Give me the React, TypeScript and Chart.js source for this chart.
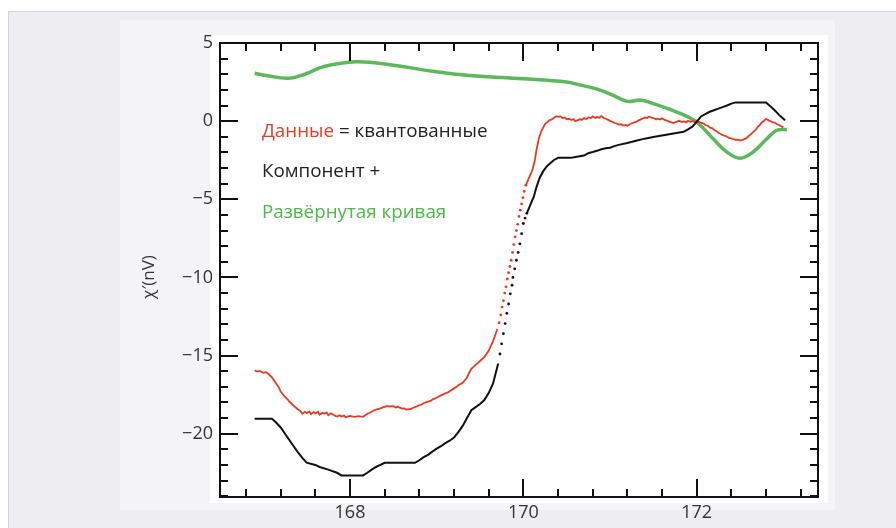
import React, { useEffect, useRef } from "react";
import { Chart, registerables } from "chart.js";

Chart.register(...registerables);

// ---- axis setup ----
const xMin = 166.5;
const xMax = 173.4;
const yMin = -24.05;
const yMax = 5;
const xMajorTicks = [168, 170, 172];
const xMinorTicks = [166.8, 167.2, 167.6, 168.4, 168.8, 169.2, 169.6, 170.4, 170.8, 171.2, 171.6, 172.4, 172.8, 173.2];
const yMajorTicks = [5, 0, -5, -10, -15, -20];
const yMinorTicks = [4, 3, 2, 1, -1, -2, -3, -4, -6, -7, -8, -9, -11, -12, -13, -14, -16, -17, -18, -19, -21, -22, -23, -24];
const yTitle = "χ′(nV)";

// ---- legend text ----
const legendData = "Данные";
const legendEq = " = квантованные";
const legendComp = "Компонент +";
const legendCurve = "Развёрнутая кривая";

// ---- series (x, y) ----
const greenCurve: [number, number][] = [
  [166.9, 3.07], [167.05, 2.9], [167.3, 2.75], [167.5, 3.05], [167.7, 3.5], [168.07, 3.8],
  [168.44, 3.63], [168.97, 3.18], [169.38, 2.92], [170.0, 2.71], [170.5, 2.5], [170.65, 2.32],
  [170.85, 2.05], [171.03, 1.66], [171.12, 1.43], [171.22, 1.25], [171.35, 1.35], [171.5, 1.12],
  [171.77, 0.58], [172.0, -0.06], [172.19, -1.13], [172.35, -1.98], [172.5, -2.37], [172.65, -1.98],
  [172.81, -1.13], [172.92, -0.6], [173.04, -0.53],
];

const redLow: [number, number][] = [
  [166.9, -15.95], [166.93, -16.02], [166.96, -15.98], [167.0, -16.1], [167.03, -16.06], [167.06, -16.18],
  [167.1, -16.4], [167.15, -16.8], [167.18, -17.05], [167.2, -17.3], [167.25, -17.65], [167.28, -17.8],
  [167.3, -17.95], [167.33, -18.1], [167.35, -18.2], [167.4, -18.45], [167.43, -18.55], [167.45, -18.72],
  [167.48, -18.6], [167.5, -18.68], [167.53, -18.58], [167.55, -18.75], [167.58, -18.62], [167.6, -18.7],
  [167.63, -18.6], [167.65, -18.78], [167.68, -18.66], [167.7, -18.72], [167.73, -18.64], [167.75, -18.82],
  [167.78, -18.7], [167.8, -18.75], [167.83, -18.86], [167.85, -18.9], [167.88, -18.82], [167.9, -18.9],
  [167.93, -18.84], [167.95, -18.94], [168.0, -18.86], [168.05, -18.92], [168.1, -18.88], [168.15, -18.92],
  [168.18, -18.8], [168.2, -18.72], [168.23, -18.66], [168.25, -18.6], [168.28, -18.5], [168.3, -18.46],
  [168.35, -18.38], [168.38, -18.32], [168.4, -18.28], [168.43, -18.22], [168.45, -18.26], [168.5, -18.24],
  [168.53, -18.32], [168.55, -18.28], [168.6, -18.4], [168.63, -18.38], [168.65, -18.46], [168.7, -18.42],
  [168.73, -18.34], [168.75, -18.3], [168.8, -18.18], [168.83, -18.12], [168.85, -18.05], [168.9, -17.95],
  [168.93, -17.9], [168.95, -17.82], [169.0, -17.7], [169.03, -17.6], [169.05, -17.55], [169.1, -17.42],
  [169.13, -17.36], [169.15, -17.28], [169.2, -17.1], [169.23, -17.0], [169.25, -16.9], [169.3, -16.75],
  [169.33, -16.55], [169.35, -16.4], [169.38, -16.05], [169.4, -15.85], [169.45, -15.6], [169.5, -15.35],
  [169.55, -15.1], [169.6, -14.7], [169.65, -14.1], [169.7, -13.3],
];
const redSteep: [number, number][] = [
  [169.72, -12.9], [169.74, -12.4], [169.755, -11.9], [169.77, -11.5], [169.785, -11.0], [169.8, -10.6],
  [169.815, -10.1], [169.83, -9.7], [169.845, -9.3], [169.86, -8.9], [169.875, -8.4], [169.89, -7.9],
  [169.905, -7.4], [169.92, -7.0], [169.935, -6.6], [169.95, -6.1], [169.965, -5.7], [169.98, -5.3],
  [169.995, -4.9], [170.01, -4.5], [170.03, -4.1],
];
const redHigh: [number, number][] = [
  [170.03, -4.1], [170.06, -3.7], [170.1, -3.2], [170.13, -2.6], [170.15, -1.9], [170.18, -1.1],
  [170.21, -0.6], [170.25, -0.2], [170.3, 0.05], [170.33, 0.12], [170.35, 0.2], [170.38, 0.32],
  [170.4, 0.28], [170.43, 0.3], [170.45, 0.2], [170.48, 0.22], [170.5, 0.12], [170.53, 0.15],
  [170.55, 0.08], [170.58, 0.12], [170.6, 0.0], [170.63, 0.06], [170.65, 0.12], [170.68, 0.1],
  [170.7, 0.18], [170.73, 0.14], [170.75, 0.24], [170.78, 0.2], [170.8, 0.3], [170.83, 0.2],
  [170.85, 0.26], [170.88, 0.22], [170.9, 0.32], [170.93, 0.2], [170.95, 0.15], [170.98, 0.08],
  [171.0, 0.02], [171.03, -0.05], [171.05, -0.12], [171.08, -0.15], [171.1, -0.22], [171.13, -0.2],
  [171.15, -0.28], [171.18, -0.24], [171.2, -0.3], [171.23, -0.2], [171.25, -0.15], [171.28, -0.08],
  [171.3, -0.05], [171.33, 0.05], [171.35, 0.1], [171.38, 0.18], [171.4, 0.22], [171.43, 0.2],
  [171.45, 0.3], [171.48, 0.22], [171.5, 0.2], [171.53, 0.12], [171.55, 0.16], [171.58, 0.1],
  [171.6, 0.18], [171.63, 0.08], [171.65, 0.05], [171.68, -0.02], [171.7, -0.06], [171.73, -0.12],
  [171.75, -0.08], [171.78, -0.02], [171.8, 0.02], [171.83, -0.06], [171.85, -0.02], [171.88, -0.08],
  [171.9, 0.02], [171.93, -0.04], [171.95, 0.0], [171.98, -0.05], [172.0, 0.04], [172.03, -0.06],
  [172.05, -0.1], [172.08, -0.16], [172.1, -0.25], [172.13, -0.3], [172.15, -0.4], [172.18, -0.46],
  [172.2, -0.55], [172.23, -0.64], [172.25, -0.75], [172.28, -0.82], [172.3, -0.9], [172.33, -0.94],
  [172.35, -1.0], [172.38, -1.08], [172.4, -1.1], [172.43, -1.16], [172.45, -1.2], [172.48, -1.18],
  [172.5, -1.24], [172.53, -1.2], [172.55, -1.15], [172.58, -1.06], [172.6, -0.95], [172.63, -0.82],
  [172.65, -0.7], [172.68, -0.56], [172.7, -0.4], [172.73, -0.24], [172.75, -0.1], [172.78, 0.04],
  [172.8, 0.15], [172.83, 0.05], [172.85, 0.0], [172.88, -0.08], [172.9, -0.1], [172.93, -0.2],
  [172.95, -0.25], [172.98, -0.34], [173.0, -0.4],
];

const blackLow: [number, number][] = [
  [166.9, -19.04], [167.1, -19.04], [167.15, -19.3], [167.2, -19.6], [167.25, -20.0], [167.3, -20.4],
  [167.35, -20.8], [167.4, -21.2], [167.45, -21.55], [167.5, -21.85], [167.6, -22.0], [167.65, -22.13],
  [167.75, -22.3], [167.85, -22.5], [167.9, -22.67], [168.15, -22.67], [168.2, -22.5], [168.25, -22.3],
  [168.3, -22.13], [168.35, -22.0], [168.4, -21.86], [168.75, -21.86], [168.8, -21.7], [168.85, -21.5],
  [168.9, -21.35], [168.95, -21.15], [169.0, -20.96], [169.05, -20.8], [169.1, -20.6], [169.15, -20.45],
  [169.2, -20.25], [169.25, -19.9], [169.3, -19.5], [169.35, -19.0], [169.4, -18.5], [169.45, -18.3],
  [169.5, -18.1], [169.55, -17.85], [169.6, -17.4], [169.65, -16.8], [169.71, -15.5],
];
const blackSteep: [number, number][] = [
  [169.73, -14.9], [169.75, -14.25], [169.77, -13.6], [169.79, -12.95], [169.81, -12.3], [169.83, -11.7],
  [169.85, -11.05], [169.87, -10.5], [169.88, -10.0], [169.9, -9.45], [169.92, -8.9], [169.94, -8.4],
  [169.96, -7.85], [169.98, -7.2], [170.0, -6.55], [170.02, -6.2], [170.04, -5.9],
];
const blackHigh: [number, number][] = [
  [170.04, -5.9], [170.07, -5.5], [170.1, -5.1], [170.12, -4.85], [170.15, -4.25], [170.19, -3.6],
  [170.23, -3.2], [170.27, -2.9], [170.31, -2.7], [170.35, -2.5], [170.4, -2.35], [170.55, -2.35],
  [170.6, -2.3], [170.7, -2.2], [170.75, -2.05], [170.8, -1.98], [170.85, -1.9], [170.9, -1.8],
  [170.95, -1.73], [171.0, -1.7], [171.05, -1.6], [171.1, -1.52], [171.2, -1.4], [171.3, -1.25],
  [171.4, -1.12], [171.5, -1.02], [171.6, -0.92], [171.7, -0.82], [171.8, -0.72], [171.85, -0.68],
  [171.9, -0.52], [171.95, -0.35], [172.0, -0.05], [172.05, 0.3], [172.1, 0.45], [172.15, 0.6],
  [172.2, 0.7], [172.25, 0.8], [172.3, 0.9], [172.35, 1.0], [172.4, 1.12], [172.45, 1.2],
  [172.8, 1.2], [172.85, 0.95], [172.9, 0.7], [172.95, 0.4], [173.0, 0.15], [173.02, 0.05],
];

const RED = "#e63b22";
const GREEN = "#5cb85a";
const BLACK = "#111111";
const FONT = "'Open Sans', 'Noto Sans', sans-serif";

const toPts = (arr: [number, number][]) => arr.map(([x, y]) => ({ x, y }));

const decorPlugin = {
  id: "decor",
  beforeDraw(chart: any) {
    const { ctx, chartArea: a } = chart;
    ctx.save();
    ctx.fillStyle = "#ffffff";
    ctx.fillRect(0, 0, chart.width, chart.height);
    ctx.fillStyle = "#eeeef2";
    ctx.fillRect(8, 11, chart.width - 8, chart.height - 11);
    ctx.strokeStyle = "#d4d4d8";
    ctx.lineWidth = 1;
    ctx.beginPath();
    ctx.moveTo(8.5, chart.height);
    ctx.lineTo(8.5, 11.5);
    ctx.lineTo(chart.width, 11.5);
    ctx.stroke();
    ctx.fillStyle = "#f4f4f7";
    ctx.fillRect(120, 20, 715, 490);
    ctx.fillStyle = "#ffffff";
    ctx.fillRect(a.left - 10, a.top - 8, a.right - a.left + 20, a.bottom - a.top + 14);
    ctx.restore();
  },
  afterDraw(chart: any) {
    const { ctx, chartArea: a, scales } = chart;
    const xs = scales.x;
    const ys = scales.y;
    ctx.save();
    ctx.strokeStyle = "#111";
    ctx.lineWidth = 2;
    ctx.strokeRect(a.left, a.top, a.right - a.left, a.bottom - a.top);
    const drawX = (vals: number[], len: number) => {
      vals.forEach((v) => {
        const px = Math.round(xs.getPixelForValue(v));
        ctx.beginPath();
        ctx.moveTo(px, a.bottom);
        ctx.lineTo(px, a.bottom - len);
        ctx.moveTo(px, a.top);
        ctx.lineTo(px, a.top + len);
        ctx.stroke();
      });
    };
    const drawY = (vals: number[], len: number) => {
      vals.forEach((v) => {
        const py = Math.round(ys.getPixelForValue(v));
        ctx.beginPath();
        ctx.moveTo(a.left, py);
        ctx.lineTo(a.left + len, py);
        ctx.moveTo(a.right, py);
        ctx.lineTo(a.right - len, py);
        ctx.stroke();
      });
    };
    drawX(xMajorTicks, 18);
    drawX(xMinorTicks, 8);
    drawY(yMajorTicks, 18);
    drawY(yMinorTicks, 8);

    // legend text
    ctx.font = `18.8px ${FONT}`;
    ctx.textBaseline = "middle";
    ctx.textAlign = "left";
    const lx = 262;
    ctx.fillStyle = RED;
    ctx.fillText(legendData, lx, 132);
    const w = ctx.measureText(legendData).width;
    ctx.fillStyle = "#222";
    ctx.fillText(legendEq, lx + w, 132);
    ctx.fillText(legendComp, lx, 172);
    ctx.fillStyle = "#4cb848";
    ctx.fillText(legendCurve, lx, 213);

    // y title
    ctx.translate(149, 277);
    ctx.rotate(-Math.PI / 2);
    ctx.textAlign = "center";
    ctx.fillStyle = "#333";
    ctx.font = `17px ${FONT}`;
    ctx.fillText(yTitle, 0, 0);
    ctx.restore();
  },
};

export default function App() {
  const ref = useRef<HTMLCanvasElement | null>(null);
  useEffect(() => {
    if (!ref.current) return;
    const chart = new Chart(ref.current, {
      type: "scatter",
      data: {
        datasets: [
          { data: toPts(blackLow), showLine: true, borderColor: BLACK, borderWidth: 2, pointRadius: 0 } as any,
          { data: toPts(blackSteep), showLine: false, pointRadius: 1.4, backgroundColor: BLACK, borderWidth: 0 } as any,
          { data: toPts(blackHigh), showLine: true, borderColor: BLACK, borderWidth: 2, pointRadius: 0 } as any,
          { data: toPts(redLow), showLine: true, borderColor: RED, borderWidth: 1.8, pointRadius: 0 } as any,
          { data: toPts(redSteep), showLine: false, pointRadius: 1.4, backgroundColor: RED, borderWidth: 0 } as any,
          { data: toPts(redHigh), showLine: true, borderColor: RED, borderWidth: 1.8, pointRadius: 0 } as any,
          { data: toPts(greenCurve), showLine: true, tension: 0.4, borderColor: GREEN, borderWidth: 3.5, pointRadius: 0 } as any,
        ],
      },
      options: {
        animation: false,
        responsive: false,
        layout: { padding: { top: 43, right: 78, bottom: 0, left: 0 } },
        plugins: { legend: { display: false }, tooltip: { enabled: false } },
        scales: {
          x: {
            type: "linear",
            min: xMin,
            max: xMax,
            grid: { display: false, drawTicks: false },
            border: { display: false },
            afterBuildTicks: (s: any) => {
              s.ticks = xMajorTicks.map((v) => ({ value: v }));
            },
            afterFit: (s: any) => {
              s.height = 31;
            },
            ticks: {
              padding: 5,
              color: "#333",
              font: { family: FONT, size: 18 },
              callback: (v: any) => String(v),
            },
          },
          y: {
            type: "linear",
            min: yMin,
            max: yMax,
            grid: { display: false, drawTicks: false },
            border: { display: false },
            afterBuildTicks: (s: any) => {
              s.ticks = yMajorTicks.map((v) => ({ value: v }));
            },
            afterFit: (s: any) => {
              s.width = 220;
            },
            ticks: {
              padding: 7,
              color: "#333",
              font: { family: FONT, size: 18 },
              callback: (v: any) => (v < 0 ? "−" + Math.abs(v) : String(v)),
            },
          },
        },
      },
      plugins: [decorPlugin],
    });
    return () => chart.destroy();
  }, []);
  return (
    <div style={{ position: "absolute", left: 0, top: 0, width: 896, height: 528 }}>
      <canvas ref={ref} width={896} height={528} style={{ display: "block" }} />
    </div>
  );
}
